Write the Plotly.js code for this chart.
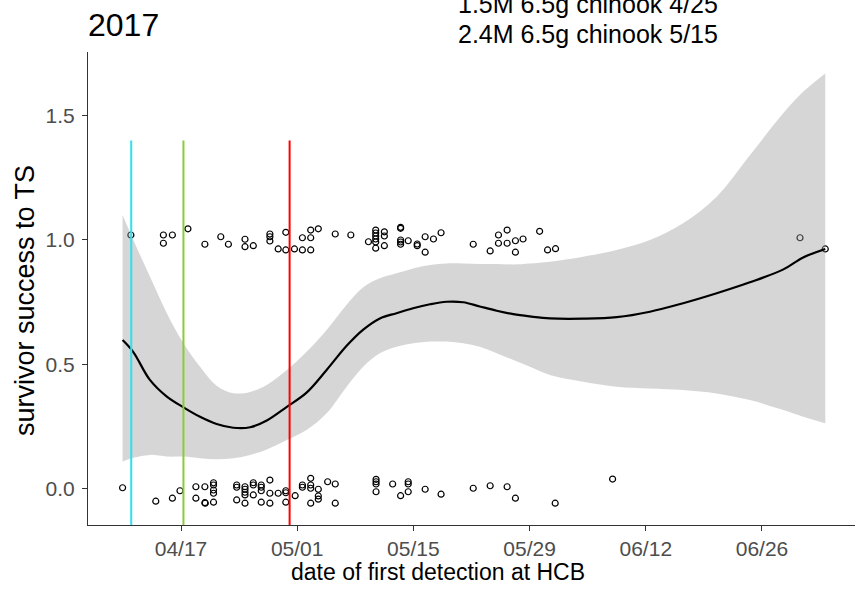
<!DOCTYPE html>
<html>
<head>
<meta charset="utf-8">
<script src="https://cdn.plot.ly/plotly-3.0.1.min.js"></script>
<style>
html,body{margin:0;padding:0;background:#fff;}
#chart{width:855px;height:594px;}
</style>
</head>
<body>
<div id="chart"></div>
<script>
// ---- data ----
const surviveDates = [
 "2017-04-10 23:00","2017-04-14 21:00","2017-04-14 21:00","2017-04-15 23:00","2017-04-17 20:00",
 "2017-04-19 21:00","2017-04-21 19:00","2017-04-22 17:00","2017-04-24 17:00","2017-04-24 17:00",
 "2017-04-25 17:00","2017-04-27 17:00","2017-04-27 17:00","2017-04-27 17:00","2017-04-28 17:00",
 "2017-04-29 15:00","2017-04-29 15:00","2017-04-30 16:00","2017-05-01 15:00","2017-05-01 15:00",
 "2017-05-02 15:00","2017-05-02 15:00","2017-05-02 15:00","2017-05-03 13:00","2017-05-05 14:00",
 "2017-05-07 11:00","2017-05-09 14:00","2017-05-10 11:00","2017-05-10 11:00","2017-05-10 11:00",
 "2017-05-10 11:00","2017-05-10 11:00","2017-05-10 11:00","2017-05-11 12:00","2017-05-11 12:00",
 "2017-05-11 12:00","2017-05-13 11:00","2017-05-13 11:00","2017-05-13 11:00","2017-05-13 11:00",
 "2017-05-13 11:00","2017-05-14 09:00","2017-05-15 11:00","2017-05-15 11:00","2017-05-16 10:00",
 "2017-05-16 10:00","2017-05-17 10:00","2017-05-18 08:00","2017-05-22 05:00","2017-05-24 06:00",
 "2017-05-25 06:00","2017-05-25 06:00","2017-05-26 07:00","2017-05-26 07:00","2017-05-27 07:00",
 "2017-05-27 07:00","2017-05-28 05:00","2017-05-30 05:00","2017-05-31 04:00","2017-06-01 03:00",
 "2017-06-30 14:00","2017-07-03 15:00"
];
const surviveVals = [
 1.02,1.02,0.987,1.02,1.045,
 0.983,1.013,0.983,1.003,0.973,
 0.977,1.024,1.013,0.996,0.964,
 1.031,0.96,0.964,1.009,0.96,
 1.04,1.009,0.96,1.045,1.024,
 1.02,0.993,1.04,1.028,1.016,
 1.004,0.992,0.967,1.033,1.016,
 0.977,1.051,1.047,1.0,0.992,
 0.983,0.997,0.984,0.977,1.013,
 0.951,1.004,1.029,0.983,0.956,
 1.02,0.987,1.04,0.987,0.997,
 0.951,1.004,1.035,0.96,0.965,
 1.009,0.964
];
const failDates = [
 "2017-04-09 23:00","2017-04-13 23:00","2017-04-15 23:00","2017-04-16 21:00","2017-04-18 19:00",
 "2017-04-18 19:00","2017-04-19 21:00","2017-04-19 21:00","2017-04-19 22:00","2017-04-20 22:00",
 "2017-04-20 22:00","2017-04-20 22:00","2017-04-20 22:00","2017-04-20 22:00","2017-04-23 17:00",
 "2017-04-23 17:00","2017-04-23 17:00","2017-04-24 17:00","2017-04-24 17:00","2017-04-24 17:00",
 "2017-04-24 17:00","2017-04-24 17:00","2017-04-25 17:00","2017-04-25 17:00","2017-04-25 17:00",
 "2017-04-26 16:00","2017-04-26 16:00","2017-04-26 16:00","2017-04-26 16:00","2017-04-27 17:00",
 "2017-04-27 17:00","2017-04-27 17:00","2017-04-28 17:00","2017-04-29 15:00","2017-04-29 15:00",
 "2017-04-29 15:00","2017-04-30 18:00","2017-05-01 15:00","2017-05-01 15:00","2017-05-02 15:00",
 "2017-05-02 15:00","2017-05-02 15:00","2017-05-02 15:00","2017-05-03 13:00","2017-05-03 13:00",
 "2017-05-03 13:00","2017-05-04 16:00","2017-05-05 14:00","2017-05-05 14:00","2017-05-10 12:00",
 "2017-05-10 12:00","2017-05-10 12:00","2017-05-10 12:00","2017-05-12 12:00","2017-05-13 11:00",
 "2017-05-14 09:00","2017-05-14 09:00","2017-05-14 09:00","2017-05-16 10:00","2017-05-18 08:00",
 "2017-05-22 05:00","2017-05-24 06:00","2017-05-26 07:00","2017-05-27 07:00","2017-06-01 02:00",
 "2017-06-08 00:00"
];
const failVals = [
 0.005,-0.049,-0.037,-0.007,0.009,
 -0.037,0.009,-0.055,-0.057,0.025,
 0.016,-0.004,-0.017,-0.053,0.016,
 0.007,-0.044,0.009,-0.001,-0.013,
 -0.024,-0.057,0.025,0.016,-0.024,
 0.016,0.007,-0.007,-0.053,0.036,
 -0.017,-0.057,-0.017,-0.007,-0.015,
 -0.053,-0.027,0.016,0.007,0.043,
 0.016,0.003,-0.057,-0.001,-0.028,
 -0.041,0.029,0.02,-0.057,0.039,
 0.029,0.02,-0.011,0.02,-0.027,
 0.029,0.02,-0.011,-0.001,-0.021,
 0.003,0.013,0.009,-0.037,-0.057,
 0.04
];
// loess fit with confidence band
const fitDates = [
 "2017-04-09 23:00","2017-04-11 06:00","2017-04-13 06:00","2017-04-15 07:00","2017-04-17 07:00",
 "2017-04-19 07:00","2017-04-21 07:00","2017-04-23 07:00","2017-04-25 08:00","2017-04-27 08:00",
 "2017-04-29 18:00","2017-05-02 03:00","2017-05-04 13:00","2017-05-06 23:00","2017-05-08 23:00",
 "2017-05-10 23:00","2017-05-12 23:00","2017-05-14 23:00","2017-05-17 00:00","2017-05-19 00:00",
 "2017-05-21 00:00","2017-05-23 00:00","2017-05-25 01:00","2017-05-27 01:00","2017-05-29 01:00",
 "2017-05-31 11:00","2017-06-04 11:00","2017-06-08 12:00","2017-06-12 12:00","2017-06-16 12:00",
 "2017-06-20 13:00","2017-06-24 13:00","2017-06-28 14:00","2017-06-30 23:00","2017-07-03 15:00"
];
const fitVals = [
 0.598,0.55,0.438,0.371,0.328,
 0.29,0.261,0.246,0.248,0.275,
 0.33,0.387,0.478,0.575,0.64,
 0.685,0.706,0.726,0.742,0.752,
 0.75,0.733,0.716,0.702,0.693,
 0.685,0.684,0.69,0.712,0.746,
 0.786,0.83,0.882,0.93,0.964
];
const fitLo = [
 0.11,0.125,0.137,0.13,0.13,
 0.123,0.119,0.123,0.137,0.159,
 0.197,0.237,0.304,0.411,0.491,
 0.545,0.571,0.585,0.592,0.592,
 0.585,0.571,0.545,0.518,0.491,
 0.458,0.431,0.411,0.404,0.398,
 0.384,0.357,0.317,0.29,0.264
];
const fitHi = [
 1.10,1.0,0.853,0.706,0.585,
 0.491,0.415,0.385,0.39,0.418,
 0.478,0.551,0.639,0.74,0.81,
 0.846,0.866,0.886,0.9,0.906,
 0.906,0.904,0.904,0.902,0.906,
 0.913,0.933,0.96,1.0,1.067,
 1.174,1.34,1.51,1.595,1.669
];
// release date markers
const releaseDates = ["2017-04-11 00:00","2017-04-17 07:00","2017-04-30 02:00"];
const releaseColors = ["#2fe0f0","#8acb3a","#ff0000"];
const releaseTop = 1.4;
const tickDates = ["2017-04-17","2017-05-01","2017-05-15","2017-05-29","2017-06-12","2017-06-26"];
const tickLabels = ["04/17","05/01","05/15","05/29","06/12","06/26"];
const yTicks = [0,0.5,1.0,1.5];
const yTickLabels = ["0.0","0.5","1.0","1.5"];
const noteLines = ["1.5M 6.5g chinook 4/25","2.4M 6.5g chinook 5/15"];
const titleText = "2017";
const xTitle = "date of first detection at HCB";
const yTitle = "survivor success to TS";

// ---- traces ----
const FONT = "Liberation Sans, Arial, sans-serif";
const traces = [];
traces.push({
  x: surviveDates.concat(failDates), y: surviveVals.concat(failVals),
  type:'scatter', mode:'markers',
  marker:{symbol:'circle-open', size:6, color:'#000', line:{width:1.2, color:'#000'}},
  hoverinfo:'skip', showlegend:false
});
traces.push({x: fitDates, y: fitLo, type:'scatter', mode:'lines', line:{width:0, color:'rgba(0,0,0,0)', shape:'spline'}, showlegend:false, hoverinfo:'skip'});
traces.push({x: fitDates, y: fitHi, type:'scatter', mode:'lines', line:{width:0, color:'rgba(0,0,0,0)', shape:'spline'}, fill:'tonexty', fillcolor:'rgba(153,153,153,0.4)', showlegend:false, hoverinfo:'skip'});
traces.push({x: fitDates, y: fitVals, type:'scatter', mode:'lines', line:{width:2.2, color:'#000', shape:'spline'}, showlegend:false, hoverinfo:'skip'});
releaseDates.forEach((d,i)=>{
  traces.push({x:[d,d], y:[-1, releaseTop], type:'scatter', mode:'lines', line:{width:2, color:releaseColors[i]}, showlegend:false, hoverinfo:'skip'});
});

const annos = noteLines.map((t,i)=>({
  text:t, xref:'paper', yref:'paper', x:0.652, y: i===0 ? 1.1015 : 1.038,
  xanchor:'center', yanchor:'middle', showarrow:false,
  font:{size:25, color:'#000', family:FONT}
}));
annos.push({text:xTitle, xref:'paper', yref:'paper', x:0.456, y:-0.1, xanchor:'center', yanchor:'middle', showarrow:false,
  font:{size:23, color:'#000', family:FONT}});
annos.push({text:yTitle, xref:'paper', yref:'paper', x:-0.0821, y:0.4736, xanchor:'center', yanchor:'middle', textangle:-90, showarrow:false,
  font:{size:27, color:'#000', family:FONT}});

const layout = {
  width:855, height:594,
  margin:{l:88, r:0, t:52, b:69, pad:0},
  paper_bgcolor:'#fff', plot_bgcolor:'#fff',
  font:{family:FONT, color:'#000'},
  title:{text:titleText, font:{size:32, family:FONT, color:'#000'}, x:0, xref:'paper', xanchor:'left', y:0.958, yref:'container', yanchor:'middle'},
  xaxis:{
    type:'date', range:["2017-04-05 19:00","2017-07-07 05:00"],
    tickmode:'array', tickvals:tickDates, ticktext:tickLabels,
    ticks:'outside', ticklen:5, tickwidth:1, tickcolor:'#333',
    showline:true, linecolor:'#333', linewidth:1,
    showgrid:false, zeroline:false,
    tickfont:{size:21, color:'#4d4d4d', family:FONT},
    automargin:false
  },
  yaxis:{
    range:[-0.1446, 1.755],
    tickmode:'array', tickvals:yTicks, ticktext:yTickLabels,
    ticks:'outside', ticklen:5, tickwidth:1, tickcolor:'#333',
    showline:true, linecolor:'#333', linewidth:1,
    showgrid:false, zeroline:false, ticklabelstandoff:3,
    tickfont:{size:21, color:'#4d4d4d', family:FONT},
    automargin:false
  },
  annotations: annos
};
Plotly.newPlot('chart', traces, layout, {displayModeBar:false, staticPlot:true});
</script>
</body>
</html>
